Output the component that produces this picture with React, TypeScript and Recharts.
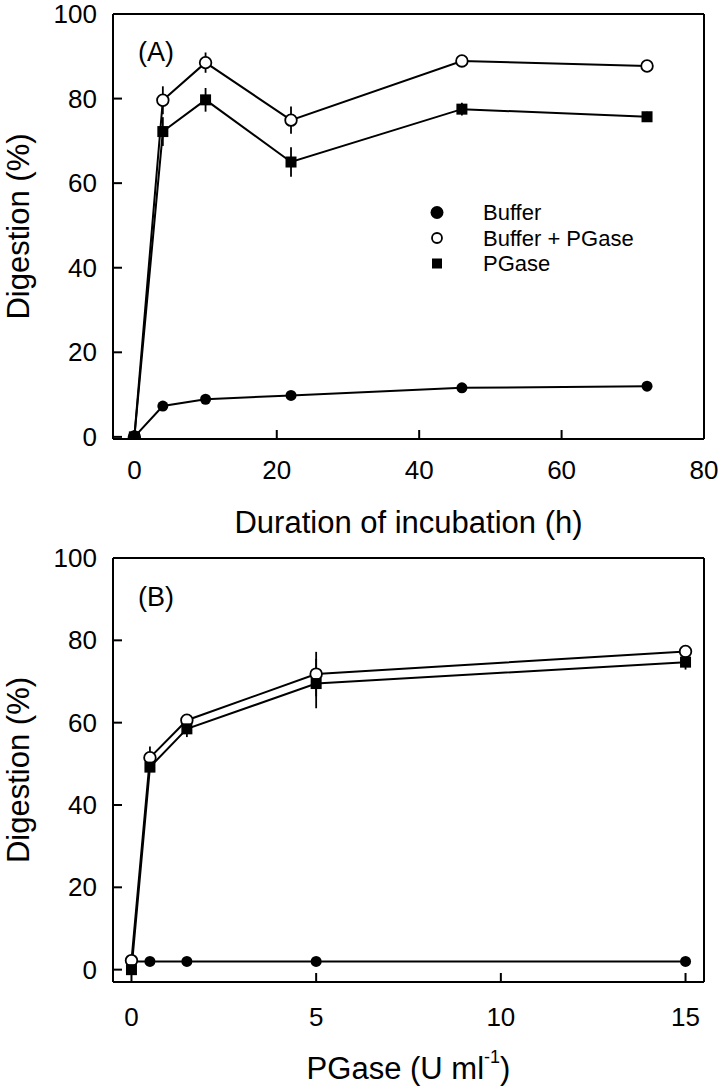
import { LineChart, Line, XAxis, YAxis, ErrorBar, ReferenceLine } from "recharts";

const FONT = "'Liberation Sans', Arial, sans-serif";

// Panel A: digestion vs duration of incubation (h)
const hoursA = [0, 4, 10, 22, 46, 72];
const bufferA = [0, 7.3, 8.9, 9.8, 11.6, 12.0];
const bufferPgA = [0, 79.6, 88.5, 74.9, 88.9, 87.7];
const pgaseA = [0, 72.2, 79.7, 65.0, 77.5, 75.7];
const bufferErrA = [0, 0.4, 0.4, 0.4, 0.4, 0.4];
const bufferPgErrA = [0, 3.3, 2.4, 3.2, 0.5, 0.5];
const pgaseErrA = [0, 3.4, 2.8, 3.5, 1.5, 1.2];

// Panel B: digestion vs PGase concentration (U ml-1)
const doseB = [0, 0.5, 1.5, 5, 15];
const bufferB = [2.0, 2.0, 2.0, 2.0, 2.0];
const bufferPgB = [2.2, 51.5, 60.6, 71.8, 77.3];
const pgaseB = [0, 49.2, 58.5, 69.5, 74.7];
const bufferErrB = [0, 0.3, 0.3, 0.3, 0.3];
const bufferPgErrB = [0, 2.7, 1.0, 5.4, 0.8];
const pgaseErrB = [0, 1.0, 2.0, 6.0, 1.8];

const yTicks = [0, 20, 40, 60, 80, 100];
const xTicksA = [0, 20, 40, 60, 80];
const xTicksB = [0, 5, 10, 15];

const legendItems = ["Buffer", "Buffer + PGase", "PGase"];

function buildRows(xs: number[], b: number[], bp: number[], p: number[], be: number[], bpe: number[], pe: number[]) {
  return xs.map((x, i) => ({
    x,
    buffer: b[i],
    bufferPg: bp[i],
    pgase: p[i],
    bufferErr: be[i],
    bufferPgErr: bpe[i],
    pgaseErr: pe[i],
  }));
}

const dataA = buildRows(hoursA, bufferA, bufferPgA, pgaseA, bufferErrA, bufferPgErrA, pgaseErrA);
const dataB = buildRows(doseB, bufferB, bufferPgB, pgaseB, bufferErrB, bufferPgErrB, pgaseErrB);

const FilledDot = (props: any) => (
  <circle key={props.key ?? `f-${props.index}`} cx={props.cx} cy={props.cy} r={5.5} fill="#000" />
);
const OpenDot = (props: any) => (
  <circle key={props.key ?? `o-${props.index}`} cx={props.cx} cy={props.cy} r={5.8} fill="#fff" stroke="#000" strokeWidth={1.8} />
);
const SquareDot = (props: any) => (
  <rect key={props.key ?? `s-${props.index}`} x={props.cx - 5.5} y={props.cy - 5.5} width={11} height={11} fill="#000" />
);

function XTick({ x, y, payload, labelDy }: any) {
  return (
    <g>
      <line x1={x} x2={x} y1={y} y2={y - 9} stroke="#000" strokeWidth={2} />
      <text x={x} y={y + labelDy} textAnchor="middle" dominantBaseline="central" fontSize={26} fontFamily={FONT} fill="#000">
        {payload.value}
      </text>
    </g>
  );
}

function YTick({ x, y, payload }: any) {
  return (
    <g>
      <line x1={x} x2={x + 9} y1={y} y2={y} stroke="#000" strokeWidth={2} />
      <text x={x - 16} y={y} textAnchor="end" dominantBaseline="central" fontSize={26} fontFamily={FONT} fill="#000">
        {payload.value}
      </text>
    </g>
  );
}

function YTitle({ viewBox }: any) {
  const cy = viewBox.y + viewBox.height / 2;
  return (
    <text x={18} y={cy} transform={`rotate(-90 18 ${cy})`} textAnchor="middle" dominantBaseline="central" fontSize={31} fontFamily={FONT} fill="#000">
      Digestion (%)
    </text>
  );
}

interface PanelProps {
  data: any[];
  height: number;
  top: number;
  plotHeight: number;
  xDomain: number[];
  xTicks: number[];
  yDomain: number[];
  borderX: number;
  labelDy: number;
  titleDy: number;
  xTitle: any;
}

function Panel({ data, height, top, plotHeight, xDomain, xTicks, yDomain, borderX, labelDy, titleDy, xTitle }: PanelProps) {
  const xAxisHeight = height - top - plotHeight;
  return (
    <LineChart width={722} height={height} data={data} margin={{ top, right: 18, left: 0, bottom: 0 }}>
      <XAxis
        dataKey="x"
        type="number"
        domain={xDomain}
        ticks={xTicks}
        interval={0}
        allowDataOverflow
        height={xAxisHeight}
        axisLine={{ stroke: "#000", strokeWidth: 2 }}
        tickLine={false}
        tickSize={0}
        tickMargin={0}
        tick={<XTick labelDy={labelDy} />}
        label={{
          content: ({ viewBox }: any) => (
            <text
              x={viewBox.x + viewBox.width / 2}
              y={viewBox.y + titleDy}
              textAnchor="middle"
              dominantBaseline="central"
              fontSize={31}
              fontFamily={FONT}
              fill="#000"
            >
              {xTitle}
            </text>
          ),
        }}
      />
      <YAxis
        type="number"
        domain={yDomain}
        ticks={yTicks}
        interval={0}
        allowDataOverflow
        width={113}
        axisLine={{ stroke: "#000", strokeWidth: 2 }}
        tickLine={false}
        tickSize={0}
        tickMargin={0}
        tick={<YTick />}
        label={{ content: YTitle }}
      />
      <ReferenceLine y={100} stroke="#000" strokeWidth={2} />
      <ReferenceLine x={borderX} stroke="#000" strokeWidth={2} />
      <Line dataKey="buffer" stroke="#000" strokeWidth={2} dot={FilledDot} activeDot={false} isAnimationActive={false}>
        <ErrorBar dataKey="bufferErr" direction="y" width={0} stroke="#000" strokeWidth={1.8} isAnimationActive={false} />
      </Line>
      <Line dataKey="bufferPg" stroke="#000" strokeWidth={2} dot={OpenDot} activeDot={false} isAnimationActive={false}>
        <ErrorBar dataKey="bufferPgErr" direction="y" width={0} stroke="#000" strokeWidth={1.8} isAnimationActive={false} />
      </Line>
      <Line dataKey="pgase" stroke="#000" strokeWidth={2} dot={SquareDot} activeDot={false} isAnimationActive={false}>
        <ErrorBar dataKey="pgaseErr" direction="y" width={0} stroke="#000" strokeWidth={1.8} isAnimationActive={false} />
      </Line>
    </LineChart>
  );
}

function Legend() {
  const rows = [212.5, 238, 263.5];
  return (
    <svg width={260} height={80} style={{ position: "absolute", left: 420, top: 200 }}>
      {legendItems.map((name, i) => {
        const cy = rows[i] - 200;
        const cx = 17;
        return (
          <g key={name}>
            {i === 0 && <circle cx={cx} cy={cy} r={6.5} fill="#000" />}
            {i === 1 && <circle cx={cx} cy={cy} r={5} fill="#fff" stroke="#000" strokeWidth={1.8} />}
            {i === 2 && <rect x={cx - 5} y={cy - 5} width={10} height={10} fill="#000" />}
            <text x={63} y={cy} dominantBaseline="central" fontSize={22} fontFamily={FONT} fill="#000">
              {name}
            </text>
          </g>
        );
      })}
    </svg>
  );
}

const panelLabelStyle = {
  position: "absolute" as const,
  left: 138,
  fontSize: 27,
  lineHeight: "30px",
  fontFamily: FONT,
  color: "#000",
};

export default function App() {
  return (
    <div style={{ position: "absolute", left: 0, top: 0, width: 722, height: 1090, background: "#fff", fontFamily: FONT }}>
      <div style={{ position: "absolute", left: 0, top: 0 }}>
        <Panel
          data={dataA}
          height={540}
          top={14}
          plotHeight={425}
          xDomain={[-3, 80]}
          xTicks={xTicksA}
          yDomain={[-0.5, 100]}
          borderX={80}
          labelDy={31}
          titleDy={83}
          xTitle="Duration of incubation (h)"
        />
      </div>
      <div style={{ position: "absolute", left: 0, top: 540 }}>
        <Panel
          data={dataB}
          height={550}
          top={18}
          plotHeight={424}
          xDomain={[-0.5, 15.5]}
          xTicks={xTicksB}
          yDomain={[-3, 100]}
          borderX={15.5}
          labelDy={35}
          titleDy={86}
          xTitle={
            <>
              PGase (U ml
              <tspan fontSize={18} dy={-11}>-1</tspan>
              <tspan dy={11}>)</tspan>
            </>
          }
        />
      </div>
      <div style={{ ...panelLabelStyle, top: 37 }}>(A)</div>
      <div style={{ ...panelLabelStyle, top: 582 }}>(B)</div>
      <Legend />
    </div>
  );
}
